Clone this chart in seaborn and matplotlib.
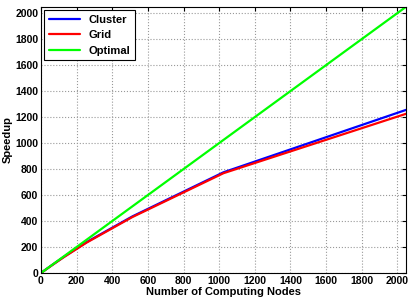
import matplotlib
matplotlib.use('Agg')
import matplotlib.pyplot as plt
import seaborn as sns
import pandas as pd

nodes = [0, 32, 64, 128, 256, 512, 1024, 2048]
cluster = [0, 32, 63, 124, 238, 435, 775, 1255]
grid = [0, 31, 62, 122, 234, 430, 768, 1225]
optimal = [0, 32, 64, 128, 256, 512, 1024, 2048]

df = pd.DataFrame({'nodes': nodes * 3,
                   'speedup': cluster + grid + optimal,
                   'series': ['Cluster'] * len(nodes) + ['Grid'] * len(nodes) + ['Optimal'] * len(nodes)})

sns.set_style('white')
plt.rcParams['font.family'] = ['Liberation Sans', 'DejaVu Sans']
plt.rcParams['font.weight'] = 'bold'
plt.rcParams['text.color'] = 'black'
plt.rcParams['xtick.color'] = 'black'
plt.rcParams['ytick.color'] = 'black'
plt.rcParams['axes.labelcolor'] = 'black'

fig = plt.figure(figsize=(4.1, 3.0), dpi=100)
ax = fig.add_axes([0.1, 0.09, 0.89, 0.887])
sns.lineplot(data=df, x='nodes', y='speedup', hue='series',
             palette={'Cluster': '#0000ff', 'Grid': '#ff0000', 'Optimal': '#00ff00'},
             linewidth=1.6, ax=ax)

ax.set_xlim(0, 2048)
ax.set_ylim(0, 2048)
ax.set_xticks(range(0, 2001, 200))
ax.set_yticks(range(0, 2001, 200))
ax.grid(True, linestyle=':', color='#999999', linewidth=0.8)
ax.tick_params(direction='in', top=True, right=True, labelsize=7.5, length=3, pad=2)
for lab in ax.get_xticklabels() + ax.get_yticklabels():
    lab.set_fontweight('bold')
for s in ax.spines.values():
    s.set_color('black')
    s.set_linewidth(0.8)
ax.set_xlabel('Number of Computing Nodes', fontsize=8, fontweight='bold', labelpad=1)
ax.set_ylabel('Speedup', fontsize=8, fontweight='bold', labelpad=2)

leg = ax.legend(loc='upper left', fontsize=8, frameon=True, fancybox=False,
                edgecolor='black', framealpha=1, borderaxespad=0.3, handlelength=2.8)
leg.get_frame().set_linewidth(0.8)
for t in leg.get_texts():
    t.set_fontweight('bold')

fig.savefig('out.png', dpi=100)
